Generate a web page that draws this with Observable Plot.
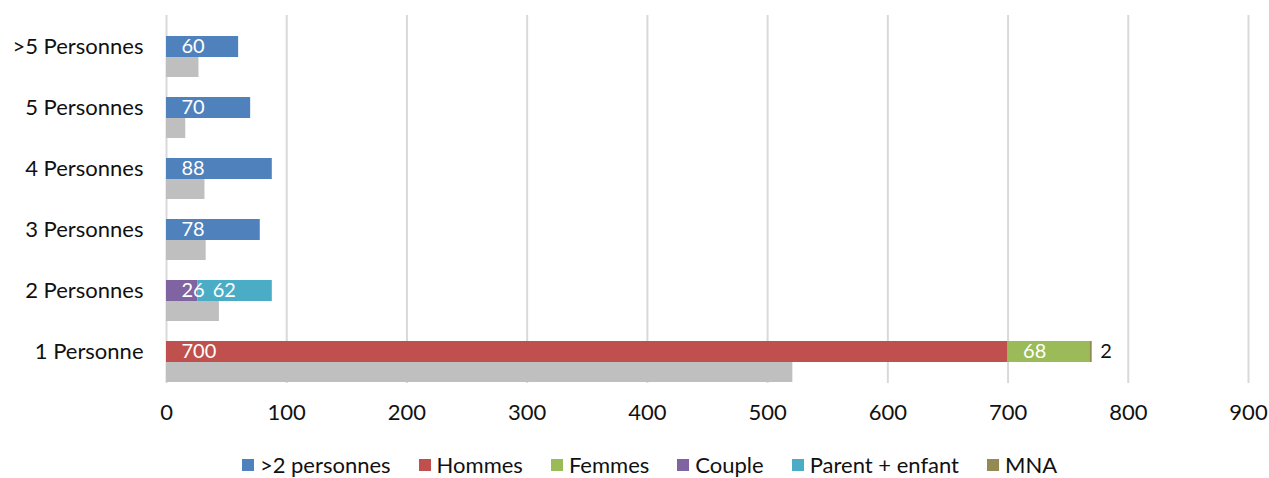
<!DOCTYPE html>
<html>
<head>
<meta charset="utf-8">
<script src="https://cdn.jsdelivr.net/npm/d3@7"></script>
<script src="https://cdn.jsdelivr.net/npm/@observablehq/plot@0.6"></script>
<style>
  html, body { margin: 0; padding: 0; background: #fff; }
  body { width: 1269px; font-family: Lato, "Open Sans", sans-serif; }
  #legend { display: flex; justify-content: center; gap: 28px; font-size: 22px; color: #111; margin-top: 11px; padding-left: 30px; }
  #legend .item { display: flex; align-items: center; }
  #legend .sw { width: 12px; height: 12px; margin-right: 6px; }
</style>
</head>
<body>
<div id="chart"></div>
<div id="legend"></div>
<script>
const categories = [">5 Personnes", "5 Personnes", "4 Personnes", "3 Personnes", "2 Personnes", "1 Personne"];
const seriesNames = [">2 personnes", "Hommes", "Femmes", "Couple", "Parent + enfant", "MNA"];
const seriesColors = ["#4F81BD", "#C0504D", "#9BBB59", "#8064A2", "#4BACC6", "#948A54"];
const plus2Personnes = [60, 70, 88, 78, 0, 0];
const hommes = [0, 0, 0, 0, 0, 700];
const femmes = [0, 0, 0, 0, 0, 68];
const couple = [0, 0, 0, 0, 26, 0];
const parentEnfant = [0, 0, 0, 0, 62, 0];
const mna = [0, 0, 0, 0, 0, 2];
const greyValues = [27, 16, 32, 33, 44, 521];
const xTicks = [0, 100, 200, 300, 400, 500, 600, 700, 800, 900];

const seriesValues = [plus2Personnes, hommes, femmes, couple, parentEnfant, mna];
const rows = [];
seriesNames.forEach((s, i) => {
  categories.forEach((c, j) => {
    const v = seriesValues[i][j];
    if (v > 0) rows.push({series: s, cat: c, value: v});
  });
});
const greyRows = categories.map((c, j) => ({cat: c, value: greyValues[j]}));

const font = "Lato, 'Open Sans', sans-serif";
const chart = Plot.plot({
  width: 1269,
  height: 440,
  marginLeft: 166,
  marginRight: 21,
  marginTop: 15,
  marginBottom: 57,
  style: {fontFamily: font, fontSize: "22px", color: "#111", background: "#fff"},
  x: {domain: [0, 900], ticks: xTicks, tickSize: 0, tickPadding: 21, label: null},
  y: {domain: categories, padding: 0, tickSize: 0, tickPadding: 23, label: null},
  color: {domain: seriesNames, range: seriesColors},
  marks: [
    Plot.gridX(xTicks, {stroke: "#d9d9d9", strokeOpacity: 1, strokeWidth: 2}),
    Plot.barX(greyRows, {x: "value", y: "cat", fill: "#BFBFBF", insetTop: 41, insetBottom: 0}),
    Plot.barX(rows, Plot.stackX({x: "value", y: "cat", z: "series", fill: "series", insetTop: 20, insetBottom: 20})),
    Plot.text(rows, Plot.stackX1({x: "value", y: "cat", z: "series", text: d => d.series === "MNA" ? null : String(d.value), textAnchor: "start", dx: 15, fill: "white", fontSize: 20})),
    Plot.text(rows, Plot.stackX2({x: "value", y: "cat", z: "series", text: d => d.series === "MNA" ? String(d.value) : null, textAnchor: "start", dx: 8, fill: "#111", fontSize: 20}))
  ]
});
document.getElementById("chart").appendChild(chart);

const legend = document.getElementById("legend");
seriesNames.forEach((s, i) => {
  const item = document.createElement("div");
  item.className = "item";
  const sw = document.createElement("span");
  sw.className = "sw";
  sw.style.background = seriesColors[i];
  const t = document.createElement("span");
  t.textContent = s;
  item.appendChild(sw);
  item.appendChild(t);
  legend.appendChild(item);
});
</script>
</body>
</html>
